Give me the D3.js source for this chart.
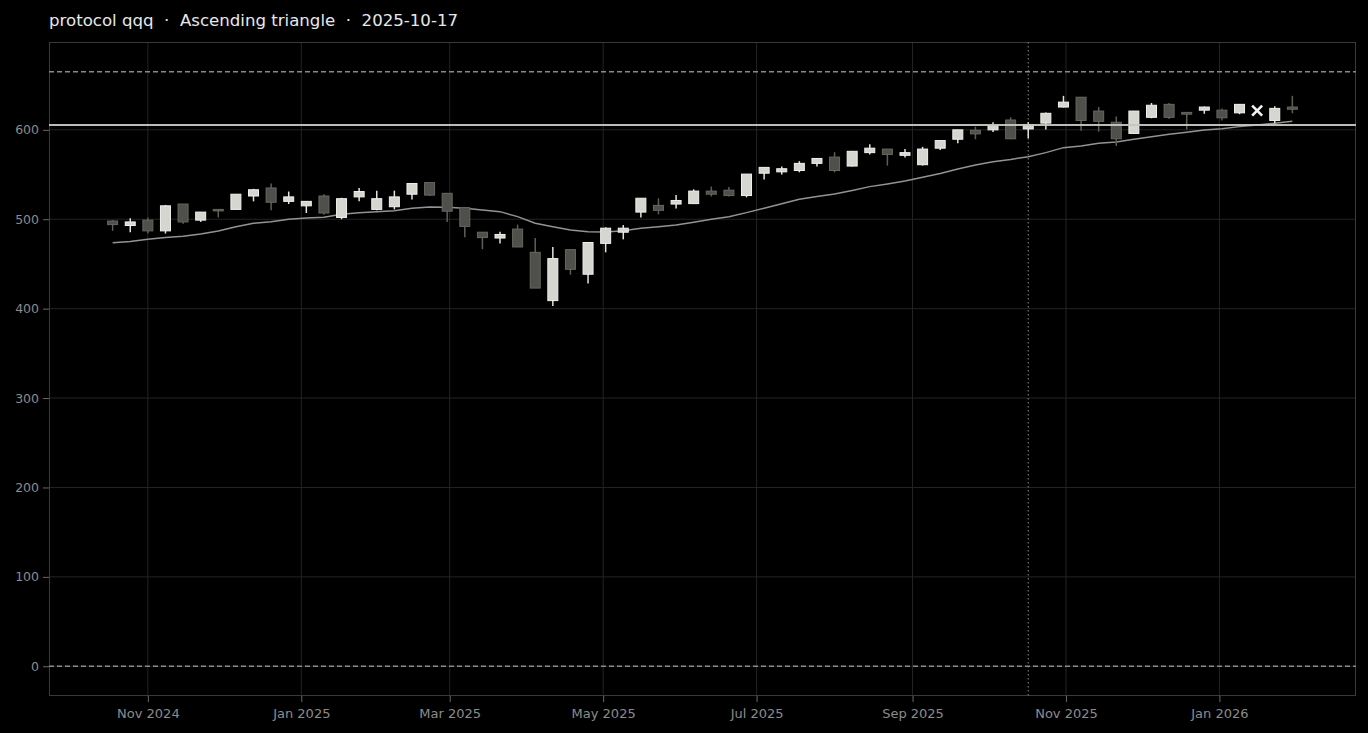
<!DOCTYPE html>
<html>
<head>
<meta charset="utf-8">
<script src="https://cdn.jsdelivr.net/npm/d3@7/dist/d3.min.js"></script>
<style>
  html, body { margin: 0; padding: 0; background: #000; }
  svg { display: block; }
</style>
</head>
<body>
<svg id="chart" width="1368" height="733"></svg>
<script>
// ---------------- DATA ----------------
const titleText = "protocol qqq  ·  Ascending triangle  ·  2025-10-17";

const weeks = [
  "2024-10-18","2024-10-25","2024-11-01","2024-11-08","2024-11-15","2024-11-22","2024-11-29",
  "2024-12-06","2024-12-13","2024-12-20","2024-12-27","2025-01-03","2025-01-10","2025-01-17",
  "2025-01-24","2025-01-31","2025-02-07","2025-02-14","2025-02-21","2025-02-28","2025-03-07",
  "2025-03-14","2025-03-21","2025-03-28","2025-04-04","2025-04-11","2025-04-18","2025-04-25",
  "2025-05-02","2025-05-09","2025-05-16","2025-05-23","2025-05-30","2025-06-06","2025-06-13",
  "2025-06-20","2025-06-27","2025-07-04","2025-07-11","2025-07-18","2025-07-25","2025-08-01",
  "2025-08-08","2025-08-15","2025-08-22","2025-08-29","2025-09-05","2025-09-12","2025-09-19",
  "2025-09-26","2025-10-03","2025-10-10","2025-10-17","2025-10-24","2025-10-31","2025-11-07",
  "2025-11-14","2025-11-21","2025-11-28","2025-12-05","2025-12-12","2025-12-19","2025-12-26",
  "2026-01-02","2026-01-09","2026-01-16","2026-01-23","2026-01-30"
];

// OHLC per week (null = no candle drawn that week)
const opens = [
  498,493,499,487,517,499,511,511,526,535,520,515,526,502,525,511,514,528,541,529,513,
  485.5,479,489,463,409,466,438.5,473,485.5,508,515.5,517,517.5,531.5,532.5,526.5,551.5,
  553,554.5,562.5,569.5,559.5,574.5,578.5,571.5,561,579.5,589.5,599.5,600,611,601,607.5,
  625.5,636.5,621,608.5,596,614,628.5,619.5,622,622,619,null,610.5,625.5
];
const highs = [
  499,501,502,516,517,508,511.5,528,534,540,531,520,528,524,535,532,532,540,541,529,513,
  485.5,486,494,479,469,466,474,491,493.5,523.5,523.5,527,533.5,536.5,536,550.5,558,
  559,565,568,575,576,584,578.5,578.5,581,588,600,603.5,608.5,614,608.5,619.5,
  638,636.5,625.5,615,621,630,630,619.5,626,624,628.5,null,626.5,638
];
const lows = [
  487,485.5,484,484,495,497,502,511,520,510,517,507,505,500,520,510,511,522,526,497,480,
  466.5,473,469,423,403,438,428,463,477.5,502,505.5,512,517,525.5,525.5,524.5,544.5,
  550,552.5,559,552.5,559,572.5,560,569,560,577.5,585,589.5,597.5,589.5,590.5,600.5,
  625,599,598,582,596,613,612,600.5,618,610.5,617.5,null,607.5,618.5
];
const closes = [
  494,497,487,515,497,508,510,528,533,519,525,520,507,523,531,523,525,540,527,509,492,
  479.5,483,469,423,456,444,474,490,490,523.5,510,521,531.5,528,526.5,550.5,558,
  556.5,562.5,568,554.5,576,579.5,572.5,574.5,578.5,588,600,595.5,605,590,606,618.5,
  631,610.5,609.5,590,621,627.5,614,617.5,625.5,613.5,628.5,null,624,623
];

// trailing average line
const average = [
  473.8,475.2,477.6,479.6,481,483.6,486.9,491.7,495.5,497.3,500,501.5,502.2,505.6,507.4,
  508.5,509.6,512.3,513.8,513.4,512.3,510.4,508.5,502.9,495.5,491.7,488,486.1,485.8,487.2,
  489.9,491.7,493.6,496.6,500,502.9,507.4,512.3,517.4,522.4,525.5,528.3,532.2,536.5,539.5,
  542.8,547,551.2,556.3,560.7,564.4,566.9,570,574.5,580.1,582,585,586.5,589.5,592.4,595.1,
  597.3,599.9,601.3,603.6,605.5,607.4,609.6
];

// pattern levels
const resistanceLevel = 605.3;
const upperTarget = 665;
const lowerTarget = 0;
const patternDate = "2025-10-17";

// breakout marker
const markerDates = ["2026-01-16"];
const markerValues = [621.5];

// axes
const yTicks = [0, 100, 200, 300, 400, 500, 600];
const yDomain = [-33.25, 698.25];
const padDays = 25.3;

// ---------------- CHART ----------------
const W = 1368, H = 733;
const M = { left: 49, right: 12, top: 42, bottom: 37 };
const svg = d3.select("#chart");
const font = "'DejaVu Sans', sans-serif";

const parse = d3.utcParse("%Y-%m-%d");
const dates = weeks.map(parse);
const dayMs = 86400000;

const x = d3.scaleUtc()
  .domain([new Date(dates[0].getTime() - padDays * dayMs),
           new Date(dates[dates.length - 1].getTime() + padDays * dayMs)])
  .range([M.left, W - M.right]);
const y = d3.scaleLinear().domain(yDomain).range([H - M.bottom, M.top]);

svg.append("rect").attr("width", W).attr("height", H).attr("fill", "#000");

const xTicks = d3.utcMonth.every(2).range(x.domain()[0], x.domain()[1]);

// grid
const grid = svg.append("g");
grid.selectAll("line.h").data(yTicks).join("line")
  .attr("x1", M.left).attr("x2", W - M.right)
  .attr("y1", d => y(d)).attr("y2", d => y(d))
  .attr("stroke", "#242424").attr("stroke-width", 1);
grid.selectAll("line.v").data(xTicks).join("line")
  .attr("x1", d => x(d)).attr("x2", d => x(d))
  .attr("y1", M.top).attr("y2", H - M.bottom)
  .attr("stroke", "#242424").attr("stroke-width", 1);

// frame
svg.append("rect")
  .attr("x", M.left + 0.5).attr("y", M.top + 0.5)
  .attr("width", W - M.left - M.right - 1).attr("height", H - M.top - M.bottom - 1)
  .attr("fill", "none").attr("stroke", "#3a3a3a");

// target dashed lines
[upperTarget, lowerTarget].forEach(v => {
  svg.append("line")
    .attr("x1", M.left).attr("x2", W - M.right)
    .attr("y1", y(v)).attr("y2", y(v))
    .attr("stroke", "#8a8a8a").attr("stroke-width", 1.3)
    .attr("stroke-dasharray", "5,3");
});

// pattern date dotted line
svg.append("line")
  .attr("x1", x(parse(patternDate))).attr("x2", x(parse(patternDate)))
  .attr("y1", M.top).attr("y2", H - M.bottom)
  .attr("stroke", "#8a8a8a").attr("stroke-width", 1)
  .attr("stroke-dasharray", "1.5,2.5");

// average line
svg.append("path")
  .datum(average.map((v, i) => [dates[i], v]))
  .attr("fill", "none").attr("stroke", "#939393").attr("stroke-width", 1.5)
  .attr("d", d3.line().x(d => x(d[0])).y(d => y(d[1])));

// candles
const candles = dates.map((d, i) => ({ d, o: opens[i], h: highs[i], l: lows[i], c: closes[i] }))
  .filter(c => c.o != null);
const bw = 10;
const cg = svg.append("g");
const cs = cg.selectAll("g").data(candles).join("g");
cs.append("line")
  .attr("x1", d => x(d.d)).attr("x2", d => x(d.d))
  .attr("y1", d => y(d.h)).attr("y2", d => y(d.l))
  .attr("stroke", d => d.c >= d.o ? "#e2e2de" : "#5e5e59").attr("stroke-width", 1.5);
cs.append("rect")
  .attr("x", d => x(d.d) - bw / 2)
  .attr("width", bw)
  .attr("y", d => y(Math.max(d.o, d.c)))
  .attr("height", d => Math.max(1.5, Math.abs(y(d.o) - y(d.c))))
  .attr("fill", d => d.c >= d.o ? "#d6d6d1" : "#4f4f4b")
  .attr("stroke", d => d.c >= d.o ? "#f0f0ec" : "#68685f")
  .attr("stroke-width", 1);

// resistance line
svg.append("line")
  .attr("x1", M.left).attr("x2", W - M.right)
  .attr("y1", y(resistanceLevel)).attr("y2", y(resistanceLevel))
  .attr("stroke", "#c6c6c0").attr("stroke-width", 2).attr("stroke-opacity", 0.95);

// marker
const mk = svg.append("g");
markerDates.forEach((md, i) => {
  const cx = x(parse(md)), cy = y(markerValues[i]), r = 5;
  mk.append("path")
    .attr("d", `M${cx - r},${cy - r}L${cx + r},${cy + r}M${cx - r},${cy + r}L${cx + r},${cy - r}`)
    .attr("stroke", "#f2f2f2").attr("stroke-width", 2.6).attr("fill", "none");
});

// axes
const xAxis = svg.append("g")
  .attr("transform", `translate(0,${H - M.bottom})`)
  .call(d3.axisBottom(x).tickValues(xTicks).tickFormat(d3.utcFormat("%b %Y")).tickSize(6).tickPadding(7));
const yAxis = svg.append("g")
  .attr("transform", `translate(${M.left},0)`)
  .call(d3.axisLeft(y).tickValues(yTicks).tickSize(6).tickPadding(4));
[xAxis, yAxis].forEach(a => {
  a.select(".domain").remove();
  a.selectAll(".tick line").attr("stroke", "#6a6a6a");
  a.selectAll(".tick text").attr("fill", "#8c8c8c").style("font-family", font);
});
xAxis.selectAll(".tick text").style("font-size", "13px");
yAxis.selectAll(".tick text").style("font-size", "12.5px");

// title
svg.append("text")
  .attr("x", M.left).attr("y", 26)
  .attr("fill", "#e8e8e8")
  .style("font-family", font).style("font-size", "16.6px")
  .style("white-space", "pre")
  .attr("xml:space", "preserve")
  .text(titleText);
</script>
</body>
</html>
